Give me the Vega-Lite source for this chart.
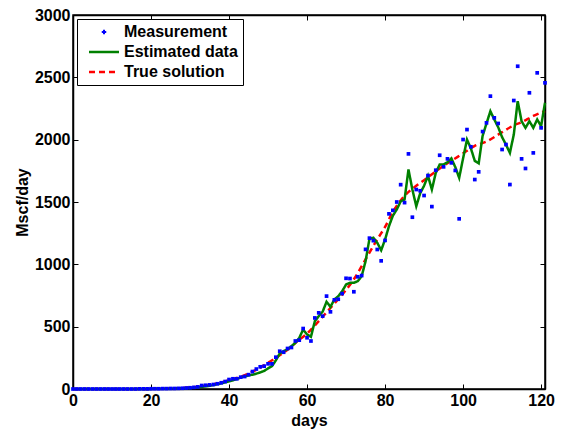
{
  "$schema": "https://vega.github.io/schema/vega-lite/v6.json",
  "width": 472,
  "height": 374,
  "autosize": "none",
  "padding": {"left": 73, "top": 15, "right": 18, "bottom": 46},
  "background": "white",
  "config": {
    "view": {"stroke": "black", "strokeWidth": 1.5},
    "font": "Liberation Sans",
    "axis": {
      "domainColor": "black", "domainWidth": 1.5,
      "tickColor": "black", "tickWidth": 1, "tickSize": -5,
      "labelFont": "Liberation Sans", "labelFontWeight": "bold", "labelFontSize": 16, "labelColor": "black",
      "titleFont": "Liberation Sans", "titleFontWeight": "bold", "titleFontSize": 16, "titleColor": "black",
      "grid": false, "labelFlush": false, "labelOverlap": false
    },
    "legend": {
      "title": null, "orient": "top-left", "offset": 4,
      "fillColor": "white", "strokeColor": "black", "padding": 5, "cornerRadius": 0,
      "labelFont": "Liberation Sans", "labelFontWeight": "bold", "labelFontSize": 16, "labelColor": "black",
      "symbolSize": 100, "symbolOffset": 14, "symbolStrokeWidth": 2.5, "labelOffset": 12, "rowPadding": 4
    }
  },
  "datasets": {
    "meas": [
      {"day":0,"value":0},{"day":1,"value":0},{"day":2,"value":0},{"day":3,"value":0},{"day":4,"value":0},{"day":5,"value":0},{"day":6,"value":0},{"day":7,"value":0},{"day":8,"value":0},{"day":9,"value":0},
      {"day":10,"value":0},{"day":11,"value":0},{"day":12,"value":0},{"day":13,"value":0},{"day":14,"value":0},{"day":15,"value":0},{"day":16,"value":0},{"day":17,"value":1},{"day":18,"value":1},{"day":19,"value":1},
      {"day":20,"value":2},{"day":21,"value":2},{"day":22,"value":2},{"day":23,"value":3},{"day":24,"value":3},{"day":25,"value":4},{"day":26,"value":4},{"day":27,"value":5},{"day":28,"value":6},{"day":29,"value":8},
      {"day":30,"value":10},{"day":31,"value":13},{"day":32,"value":17},{"day":33,"value":28},{"day":34,"value":30},{"day":35,"value":33},{"day":36,"value":36},{"day":37,"value":42},{"day":38,"value":50},{"day":39,"value":60},
      {"day":40,"value":76},{"day":41,"value":82},{"day":42,"value":82},{"day":43,"value":95},{"day":44,"value":100},{"day":45,"value":115},{"day":46,"value":140},{"day":47,"value":160},{"day":48,"value":178},{"day":49,"value":183},
      {"day":50,"value":202},{"day":51,"value":202},{"day":52,"value":255},{"day":53,"value":303},{"day":54,"value":295},{"day":55,"value":325},{"day":56,"value":333},{"day":57,"value":385},{"day":58,"value":392},{"day":59,"value":485},
      {"day":60,"value":411},{"day":61,"value":385},{"day":62,"value":570},{"day":63,"value":611},{"day":64,"value":584},{"day":65,"value":745},{"day":66,"value":619},{"day":67,"value":715},{"day":68,"value":720},{"day":69,"value":765},
      {"day":70,"value":888},{"day":71,"value":886},{"day":72,"value":780},{"day":73,"value":900},{"day":74,"value":910},{"day":75,"value":1120},{"day":76,"value":1210},{"day":77,"value":1190},{"day":78,"value":1119},{"day":79,"value":1028},
      {"day":80,"value":1192},{"day":81,"value":1405},{"day":82,"value":1433},{"day":83,"value":1500},{"day":84,"value":1639},{"day":85,"value":1495},{"day":86,"value":1886},{"day":87,"value":1378},{"day":88,"value":1600},{"day":89,"value":1590},
      {"day":90,"value":1552},{"day":91,"value":1712},{"day":92,"value":1463},{"day":93,"value":1755},{"day":94,"value":1875},{"day":95,"value":1782},{"day":96,"value":1846},{"day":97,"value":1814},{"day":98,"value":1753},{"day":99,"value":1365},
      {"day":100,"value":2001},{"day":101,"value":2081},{"day":102,"value":1943},{"day":103,"value":1680},{"day":104,"value":1742},{"day":105,"value":2065},{"day":106,"value":2135},{"day":107,"value":2349},{"day":108,"value":2175},{"day":109,"value":2130},
      {"day":110,"value":1921},{"day":111,"value":1961},{"day":112,"value":1640},{"day":113,"value":2314},{"day":114,"value":2589},{"day":115,"value":1846},{"day":116,"value":1769},{"day":117,"value":2376},{"day":118,"value":1894},{"day":119,"value":2536},
      {"day":120,"value":2095},{"day":121,"value":2456}
    ],
    "est": [
      {"day":0,"value":0},{"day":10,"value":0},{"day":20,"value":1},{"day":25,"value":3},{"day":30,"value":8},{"day":32,"value":14},{"day":35,"value":25},{"day":38,"value":45},
      {"day":40,"value":62},{"day":41,"value":70},{"day":42,"value":80},{"day":43,"value":92},{"day":44,"value":102},{"day":45,"value":108},{"day":46,"value":115},{"day":47,"value":123},{"day":48,"value":133},{"day":49,"value":145},
      {"day":50,"value":165},{"day":51,"value":183},{"day":52,"value":230},{"day":53,"value":285},{"day":54,"value":303},{"day":55,"value":320},{"day":56,"value":343},{"day":57,"value":370},{"day":58,"value":410},{"day":59,"value":477},
      {"day":60,"value":437},{"day":61,"value":419},{"day":62,"value":544},{"day":63,"value":584},{"day":64,"value":620},{"day":65,"value":700},{"day":66,"value":659},{"day":67,"value":718},{"day":68,"value":744},{"day":69,"value":784},
      {"day":70,"value":838},{"day":71,"value":852},{"day":72,"value":852},{"day":73,"value":865},{"day":74,"value":905},{"day":75,"value":1025},{"day":76,"value":1205},{"day":77,"value":1213},{"day":78,"value":1173},{"day":79,"value":1113},
      {"day":80,"value":1199},{"day":81,"value":1306},{"day":82,"value":1390},{"day":83,"value":1440},{"day":84,"value":1505},{"day":85,"value":1520},{"day":86,"value":1761},{"day":87,"value":1600},{"day":88,"value":1466},{"day":89,"value":1570},
      {"day":90,"value":1630},{"day":91,"value":1710},{"day":92,"value":1600},{"day":93,"value":1734},{"day":94,"value":1801},{"day":95,"value":1801},{"day":96,"value":1819},{"day":97,"value":1850},{"day":98,"value":1780},{"day":99,"value":1694},
      {"day":100,"value":1850},{"day":101,"value":2001},{"day":102,"value":1930},{"day":103,"value":1830},{"day":104,"value":1810},{"day":105,"value":2030},{"day":106,"value":2130},{"day":107,"value":2228},{"day":108,"value":2162},{"day":109,"value":2100},
      {"day":110,"value":2020},{"day":111,"value":1960},{"day":112,"value":1894},{"day":113,"value":2041},{"day":114,"value":2309},{"day":115,"value":2148},{"day":116,"value":2095},{"day":117,"value":2148},{"day":118,"value":2095},{"day":119,"value":2162},
      {"day":120,"value":2108},{"day":121,"value":2296}
    ],
    "truth": [
      {"day":0,"value":0},{"day":10,"value":0},{"day":20,"value":1},{"day":25,"value":4},{"day":30,"value":12},{"day":33,"value":22},{"day":35,"value":32},{"day":38,"value":52},
      {"day":40,"value":70},{"day":42,"value":88},{"day":45,"value":125},{"day":48,"value":172},{"day":50,"value":210},{"day":52,"value":250},{"day":55,"value":315},{"day":58,"value":395},
      {"day":60,"value":445},{"day":62,"value":510},{"day":65,"value":615},{"day":68,"value":720},{"day":70,"value":795},{"day":72,"value":880},{"day":75,"value":1040},{"day":78,"value":1200},
      {"day":80,"value":1300},{"day":82,"value":1420},{"day":85,"value":1550},{"day":88,"value":1630},{"day":90,"value":1675},{"day":93,"value":1745},{"day":95,"value":1790},{"day":97,"value":1830},
      {"day":100,"value":1890},{"day":103,"value":1950},{"day":106,"value":1985},{"day":110,"value":2060},{"day":113,"value":2115},{"day":115,"value":2140},{"day":118,"value":2190},{"day":121,"value":2230}
    ]
  },
  "resolve": {"axis": {"x": "independent", "y": "independent"}},
  "layer": [
    {
      "data": {"name": "truth"},
      "transform": [{"calculate": "'True solution'", "as": "series"}],
      "mark": {"type": "line", "strokeWidth": 2.5, "interpolate": "monotone"},
      "encoding": {
        "x": {"field": "day", "type": "quantitative", "scale": {"domain": [0, 121], "nice": false},
              "axis": {"orient": "bottom", "values": [0, 20, 40, 60, 80, 100, 120], "title": "days", "labelPadding": 8, "titlePadding": 4}},
        "y": {"field": "value", "type": "quantitative", "scale": {"domain": [0, 3000], "nice": false},
              "axis": {"orient": "left", "values": [0, 500, 1000, 1500, 2000, 2500, 3000], "format": "d", "title": "Mscf/day", "labelPadding": 8, "titlePadding": 4}},
        "color": {"field": "series", "type": "nominal", "scale": {"domain": ["Measurement", "Estimated data", "True solution"], "range": ["#0000ff", "#008000", "#ff0000"]}},
        "strokeDash": {"field": "series", "type": "nominal", "scale": {"domain": ["Measurement", "Estimated data", "True solution"], "range": [[1, 0], [1, 0], [6, 4]]}}
      }
    },
    {
      "data": {"name": "est"},
      "transform": [{"calculate": "'Estimated data'", "as": "series"}],
      "mark": {"type": "line", "strokeWidth": 2.5},
      "encoding": {
        "x": {"field": "day", "type": "quantitative", "scale": {"domain": [0, 121], "nice": false},
              "axis": {"orient": "top", "values": [0, 20, 40, 60, 80, 100, 120], "labels": false, "title": null}},
        "y": {"field": "value", "type": "quantitative", "scale": {"domain": [0, 3000], "nice": false},
              "axis": {"orient": "right", "values": [0, 500, 1000, 1500, 2000, 2500, 3000], "labels": false, "title": null}},
        "color": {"field": "series", "type": "nominal", "scale": {"domain": ["Measurement", "Estimated data", "True solution"], "range": ["#0000ff", "#008000", "#ff0000"]}},
        "strokeDash": {"field": "series", "type": "nominal", "scale": {"domain": ["Measurement", "Estimated data", "True solution"], "range": [[1, 0], [1, 0], [6, 4]]}}
      }
    },
    {
      "data": {"name": "meas"},
      "transform": [{"calculate": "'Measurement'", "as": "series"}],
      "mark": {"type": "point", "filled": true, "size": 342, "opacity": 1},
      "encoding": {
        "x": {"field": "day", "type": "quantitative", "scale": {"domain": [0, 121], "nice": false}, "axis": null},
        "y": {"field": "value", "type": "quantitative", "scale": {"domain": [0, 3000], "nice": false}, "axis": null},
        "color": {"field": "series", "type": "nominal", "scale": {"domain": ["Measurement", "Estimated data", "True solution"], "range": ["#0000ff", "#008000", "#ff0000"]}},
        "shape": {"field": "series", "type": "nominal", "scale": {"domain": ["Measurement", "Estimated data", "True solution"], "range": ["M-0.2,-0.2H0.2V0.2H-0.2Z", "M-3,0H3", "M-3,0H3"]}}
      }
    }
  ]
}
